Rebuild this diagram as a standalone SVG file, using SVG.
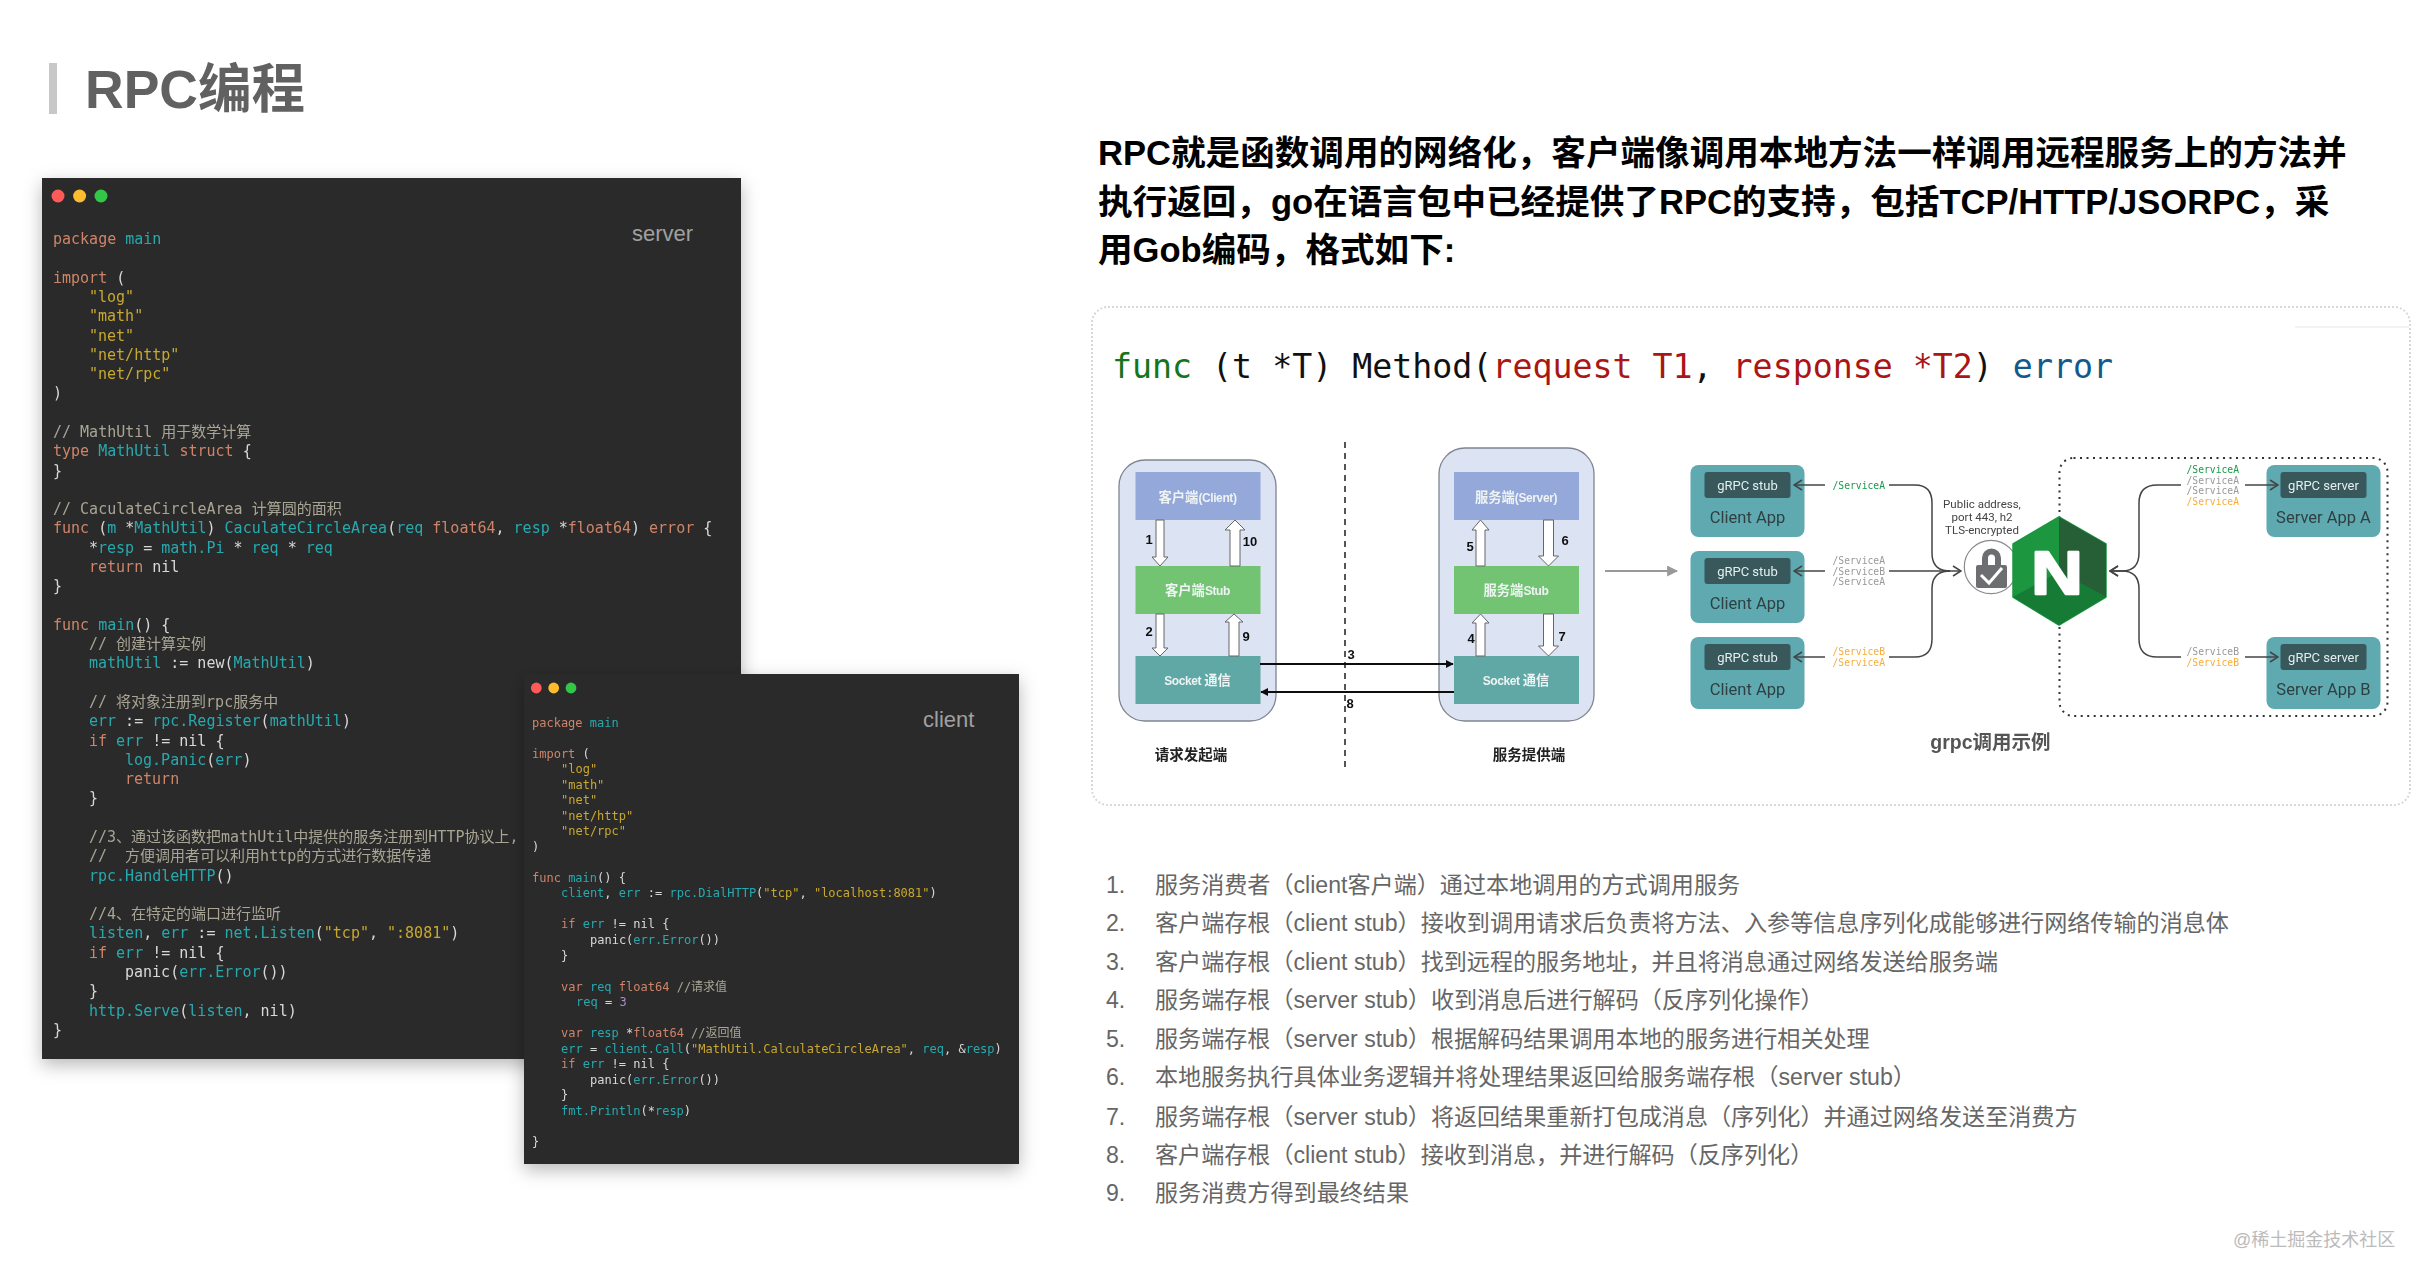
<svg xmlns="http://www.w3.org/2000/svg" width="2426" height="1282" viewBox="0 0 2426 1282">
<style>
text{white-space:pre}
.cjk{font-family:"Liberation Sans","Noto Sans CJK SC",sans-serif}
.rb{font-family:Roboto,"Noto Sans CJK SC",sans-serif}
.code text{font-family:"DejaVu Sans Mono","Noto Sans CJK SC",monospace;fill:#d8d8d8}
.s15 text{font-size:15px}
.s12 text{font-size:12px}
.k{fill:#cf8468}.t{fill:#27a9ae}.y{fill:#c9a82e}.c{fill:#a8a594}.p{fill:#b08fc0}
.win{fill:#2b2b2b;filter:url(#shadow)}
.winlabel{font-family:"Liberation Sans",sans-serif;font-size:22px;fill:#a0a0a0}
.head{font-size:34.6px;font-weight:700;fill:#000}
.li{font-size:23.1px;fill:#666}
.box{stroke:none}
.boxtxt{font-size:13.3px;font-weight:700;fill:#eef3f3;text-anchor:middle}
.lat{font-size:12px;letter-spacing:-0.4px}
.outer{fill:#dce3f2;stroke:#7f8590;stroke-width:1.3}
.blk{fill:#fff;stroke:#666;stroke-width:1}
.num{font-family:"Liberation Sans",sans-serif;font-size:13px;font-weight:700;fill:#111;text-anchor:middle}
.cap{font-size:14.5px;font-weight:700;fill:#222;text-anchor:middle}
.app{fill:#5eaab1}
.stub{fill:#38595c}
.stubtxt{font-size:13px;fill:#e4eeee;text-anchor:middle}
.apptxt{font-size:16.5px;fill:#2f3f42;text-anchor:middle}
.svc{font-family:"DejaVu Sans Mono",monospace;font-size:9.7px}
.g{fill:#1a9a4a}.gr{fill:#999}.o{fill:#f5ae3c}
.ln{fill:none;stroke:#444;stroke-width:1.5}
.arr{marker-end:url(#chev)}
.pub{font-size:11.5px;fill:#444;text-anchor:middle}
</style>
<defs>
<filter id="shadow" x="-10%" y="-10%" width="120%" height="120%"><feDropShadow dx="0" dy="6" stdDeviation="9" flood-color="#000" flood-opacity="0.28"/></filter>
<filter id="soft"><feGaussianBlur stdDeviation="0.45"/></filter>
<marker id="chev" viewBox="0 0 10 12" refX="9" refY="6" markerWidth="10" markerHeight="12" markerUnits="userSpaceOnUse" orient="auto"><path d="M1 1L9 6L1 11" fill="none" stroke="#444" stroke-width="1.5"/></marker>
<marker id="blk" viewBox="0 0 10 10" refX="9" refY="5" markerWidth="8" markerHeight="8" markerUnits="userSpaceOnUse" orient="auto"><path d="M0 0L10 5L0 10Z" fill="#111"/></marker>
<marker id="gry" viewBox="0 0 10 10" refX="9" refY="5" markerWidth="11" markerHeight="11" markerUnits="userSpaceOnUse" orient="auto"><path d="M0 0L10 5L0 10Z" fill="#999"/></marker>
</defs>
<rect width="2426" height="1282" fill="#fff"/>

<g id="title">
<rect x="49" y="63" width="8" height="51" fill="#c8c8c8"/>
<text class="cjk" x="85" y="108" font-size="53.5" font-weight="700" fill="#616161">RPC编程</text>
</g>

<g id="server-window">
<rect class="win" x="42" y="178" width="699" height="881"/>
<circle cx="58" cy="196" r="6.5" fill="#fc5b57"/><circle cx="79.6" cy="196" r="6.5" fill="#fdbc2e"/><circle cx="101" cy="196" r="6.5" fill="#33c748"/>
<text class="winlabel" x="632" y="241">server</text>
<g class="code s15" filter="url(#soft)">
<text x="53" y="244"><tspan class="k">package</tspan> <tspan class="t">main</tspan></text>
<text x="53" y="282.6"><tspan class="k">import</tspan> (</text>
<text x="89" y="301.9" style="fill:#c9a82e">"log"</text>
<text x="89" y="321.2" style="fill:#c9a82e">"math"</text>
<text x="89" y="340.5" style="fill:#c9a82e">"net"</text>
<text x="89" y="359.7" style="fill:#c9a82e">"net/http"</text>
<text x="89" y="379" style="fill:#c9a82e">"net/rpc"</text>
<text x="53" y="398.3">)</text>
<text x="53" y="436.9" style="fill:#a8a594">// MathUtil 用于数学计算</text>
<text x="53" y="456.2"><tspan class="k">type</tspan> <tspan class="t">MathUtil</tspan> <tspan class="k">struct</tspan> {</text>
<text x="53" y="475.5">}</text>
<text x="53" y="514.1" style="fill:#a8a594">// CaculateCircleArea 计算圆的面积</text>
<text x="53" y="533.4"><tspan class="k">func</tspan> (<tspan class="t">m</tspan> *<tspan class="t">MathUtil</tspan>) <tspan class="t">CaculateCircleArea</tspan>(<tspan class="t">req</tspan> <tspan class="k">float64</tspan>, <tspan class="t">resp</tspan> *<tspan class="k">float64</tspan>) <tspan class="k">error</tspan> {</text>
<text x="89" y="552.6">*<tspan class="t">resp</tspan> = <tspan class="t">math.Pi</tspan> * <tspan class="t">req</tspan> * <tspan class="t">req</tspan></text>
<text x="89" y="571.9"><tspan class="k">return</tspan> nil</text>
<text x="53" y="591.2">}</text>
<text x="53" y="629.8"><tspan class="k">func</tspan> <tspan class="t">main</tspan>() {</text>
<text x="89" y="649.1" style="fill:#a8a594">// 创建计算实例</text>
<text x="89" y="668.4"><tspan class="t">mathUtil</tspan> := new(<tspan class="t">MathUtil</tspan>)</text>
<text x="89" y="707" style="fill:#a8a594">// 将对象注册到rpc服务中</text>
<text x="89" y="726.3"><tspan class="t">err</tspan> := <tspan class="t">rpc.Register</tspan>(<tspan class="t">mathUtil</tspan>)</text>
<text x="89" y="745.5"><tspan class="k">if</tspan> <tspan class="t">err</tspan> != nil {</text>
<text x="125" y="764.8"><tspan class="t">log.Panic</tspan>(<tspan class="t">err</tspan>)</text>
<text x="125" y="784.1"><tspan class="k">return</tspan></text>
<text x="89" y="803.4">}</text>
<text x="89" y="842" style="fill:#a8a594">//3、通过该函数把mathUtil中提供的服务注册到HTTP协议上,</text>
<text x="89" y="861.3" style="fill:#a8a594">//  方便调用者可以利用http的方式进行数据传递</text>
<text x="89" y="880.6"><tspan class="t">rpc.HandleHTTP</tspan>()</text>
<text x="89" y="919.2" style="fill:#a8a594">//4、在特定的端口进行监听</text>
<text x="89" y="938.4"><tspan class="t">listen</tspan>, <tspan class="t">err</tspan> := <tspan class="t">net.Listen</tspan>(<tspan class="y">"tcp"</tspan>, <tspan class="y">":8081"</tspan>)</text>
<text x="89" y="957.7"><tspan class="k">if</tspan> <tspan class="t">err</tspan> != nil {</text>
<text x="125" y="977">panic(<tspan class="t">err.Error</tspan>())</text>
<text x="89" y="996.3">}</text>
<text x="89" y="1015.6"><tspan class="t">http.Serve</tspan>(<tspan class="t">listen</tspan>, nil)</text>
<text x="53" y="1034.9">}</text>
</g>
</g>

<g id="client-window">
<rect class="win" x="524" y="674" width="495" height="490"/>
<circle cx="536.3" cy="688" r="5.4" fill="#fc5b57"/><circle cx="553.7" cy="688" r="5.4" fill="#fdbc2e"/><circle cx="571" cy="688" r="5.4" fill="#33c748"/>
<text class="winlabel" x="923" y="727">client</text>
<g class="code s12" filter="url(#soft)">
<text x="532" y="726.5"><tspan class="k">package</tspan> <tspan class="t">main</tspan></text>
<text x="532" y="757.6"><tspan class="k">import</tspan> (</text>
<text x="561" y="773.1" style="fill:#c9a82e">"log"</text>
<text x="561" y="788.6" style="fill:#c9a82e">"math"</text>
<text x="561" y="804.2" style="fill:#c9a82e">"net"</text>
<text x="561" y="819.7" style="fill:#c9a82e">"net/http"</text>
<text x="561" y="835.2" style="fill:#c9a82e">"net/rpc"</text>
<text x="532" y="850.7">)</text>
<text x="532" y="881.8"><tspan class="k">func</tspan> <tspan class="t">main</tspan>() {</text>
<text x="561" y="897.3"><tspan class="t">client</tspan>, <tspan class="t">err</tspan> := <tspan class="t">rpc.DialHTTP</tspan>(<tspan class="y">"tcp"</tspan>, <tspan class="y">"localhost:8081"</tspan>)</text>
<text x="561" y="928.4"><tspan class="k">if</tspan> <tspan class="t">err</tspan> != nil {</text>
<text x="590" y="943.9">panic(<tspan class="t">err.Error</tspan>())</text>
<text x="561" y="959.5">}</text>
<text x="561" y="990.5"><tspan class="k">var</tspan> <tspan class="t">req</tspan> <tspan class="k">float64</tspan> <tspan class="c">//请求值</tspan></text>
<text x="576" y="1006"><tspan class="t">req</tspan> = <tspan class="p">3</tspan></text>
<text x="561" y="1037.1"><tspan class="k">var</tspan> <tspan class="t">resp</tspan> *<tspan class="k">float64</tspan> <tspan class="c">//返回值</tspan></text>
<text x="561" y="1052.6"><tspan class="t">err</tspan> = <tspan class="t">client.Call</tspan>(<tspan class="y">"MathUtil.CalculateCircleArea"</tspan>, <tspan class="t">req</tspan>, &amp;<tspan class="t">resp</tspan>)</text>
<text x="561" y="1068.2"><tspan class="k">if</tspan> <tspan class="t">err</tspan> != nil {</text>
<text x="590" y="1083.7">panic(<tspan class="t">err.Error</tspan>())</text>
<text x="561" y="1099.2">}</text>
<text x="561" y="1114.8"><tspan class="t">fmt.Println</tspan>(*<tspan class="t">resp</tspan>)</text>
<text x="532" y="1145.8">}</text>
</g>
</g>

<g id="intro" class="cjk">
<text class="head" x="1098" y="165">RPC就是函数调用的网络化&#xFF0C;客户端像调用本地方法一样调用远程服务上的方法并</text>
<text class="head" x="1098" y="214">执行返回&#xFF0C;go在语言包中已经提供了RPC的支持&#xFF0C;包括TCP/HTTP/JSORPC&#xFF0C;采</text>
<text class="head" x="1098" y="262">用Gob编码&#xFF0C;格式如下:</text>
</g>

<g id="panel">
<rect x="1092" y="307" width="1318" height="498" rx="16" fill="#fff" stroke="#d8d8d8" stroke-width="2" stroke-dasharray="2 2"/>
<path d="M2295 327H2409" stroke="#eee" stroke-width="1.5" fill="none"/>
<text x="1112" y="378" font-family="'DejaVu Sans Mono',monospace" font-size="33.25" fill="#111"><tspan fill="#15751a">func</tspan> (t *T) Method(<tspan fill="#aa1515">request T1</tspan>, <tspan fill="#aa1515">response *T2</tspan>) <tspan fill="#135a8c">error</tspan></text>
</g>

<g id="rpc-diagram" class="cjk" filter="url(#soft)">
<g id="client-side">
<rect class="outer" x="1119" y="460" width="157" height="261" rx="26"/>
<g id="client-box"><rect class="box" x="1135.5" y="472" width="125" height="48" fill="#94a8d9"/><text class="boxtxt" x="1197.5" y="502">客户端<tspan class="lat">(Client)</tspan></text></g>
<g id="client-stub"><rect class="box" x="1135.5" y="566" width="125" height="48" fill="#72c472"/><text class="boxtxt" x="1197.5" y="595">客户端<tspan class="lat">Stub</tspan></text></g>
<g id="client-socket"><rect class="box" x="1135.5" y="656" width="125" height="48" fill="#5fa8a5"/><text class="boxtxt" x="1197.5" y="685"><tspan class="lat">Socket </tspan>通信</text></g>
</g>
<g id="server-side">
<rect class="outer" x="1439" y="448" width="155" height="273" rx="26"/>
<g id="server-box"><rect class="box" x="1454" y="472" width="125" height="48" fill="#94a8d9"/><text class="boxtxt" x="1516" y="502">服务端<tspan class="lat">(Server)</tspan></text></g>
<g id="server-stub"><rect class="box" x="1454" y="566" width="125" height="48" fill="#72c472"/><text class="boxtxt" x="1516" y="595">服务端<tspan class="lat">Stub</tspan></text></g>
<g id="server-socket"><rect class="box" x="1454" y="656" width="125" height="48" fill="#5fa8a5"/><text class="boxtxt" x="1516" y="685"><tspan class="lat">Socket </tspan>通信</text></g>
</g>
<g id="rpc-connectors">
<path class="blk" d="M1156 520H1164V557H1168L1160 566L1152 557H1156Z"/>
<path class="blk" d="M1230 566H1240V530H1245L1235 520L1225 530H1230Z"/>
<path class="blk" d="M1156 614H1164V648H1168L1160 656L1152 648H1156Z"/>
<path class="blk" d="M1229 656H1239V622H1243L1234 614L1225 622H1229Z"/>
<path class="blk" d="M1476 566H1485V530H1489L1480.5 520L1472 530H1476Z"/>
<path class="blk" d="M1543.5 520H1553.5V556H1558.5L1548.5 566L1538.5 556H1543.5Z"/>
<path class="blk" d="M1476 656H1485V623H1489L1480.5 614L1472 623H1476Z"/>
<path class="blk" d="M1543.5 614H1553.5V646H1558.5L1548.5 656L1538.5 646H1543.5Z"/>
<path d="M1345 442V770" stroke="#555" stroke-width="2" stroke-dasharray="6 5" fill="none"/>
<path d="M1260 664H1453" stroke="#111" stroke-width="2.2" fill="none" marker-end="url(#blk)"/>
<path d="M1454 692H1261" stroke="#111" stroke-width="2.2" fill="none" marker-end="url(#blk)"/>
<path d="M1605 571H1677" stroke="#999" stroke-width="2.2" fill="none" marker-end="url(#gry)"/>
</g>
<text class="num" x="1149" y="544">1</text><text class="num" x="1250" y="546">10</text>
<text class="num" x="1149" y="636">2</text><text class="num" x="1246" y="641">9</text>
<text class="num" x="1470" y="551">5</text><text class="num" x="1565" y="545">6</text>
<text class="num" x="1471" y="643">4</text><text class="num" x="1562" y="641">7</text>
<text class="num" x="1351" y="659">3</text><text class="num" x="1350" y="708">8</text>
<text class="cap" x="1191" y="760">请求发起端</text>
<text class="cap" x="1529" y="760">服务提供端</text>
</g>

<g id="grpc-diagram" filter="url(#soft)">
<rect x="2059.5" y="458" width="328" height="258" rx="14" fill="none" stroke="#333" stroke-width="2" stroke-dasharray="2 4.5"/>
<g id="client-app-1" class="rb"><rect class="app" x="1690.5" y="465" width="114" height="72" rx="8"/><rect class="stub" x="1704.5" y="472" width="86" height="26" rx="3"/><text class="stubtxt" x="1747.5" y="490">gRPC stub</text><text class="apptxt" x="1747.5" y="523">Client App</text></g>
<g id="client-app-2" class="rb"><rect class="app" x="1690.5" y="551" width="114" height="72" rx="8"/><rect class="stub" x="1704.5" y="558" width="86" height="26" rx="3"/><text class="stubtxt" x="1747.5" y="576">gRPC stub</text><text class="apptxt" x="1747.5" y="609">Client App</text></g>
<g id="client-app-3" class="rb"><rect class="app" x="1690.5" y="637" width="114" height="72" rx="8"/><rect class="stub" x="1704.5" y="644" width="86" height="26" rx="3"/><text class="stubtxt" x="1747.5" y="662">gRPC stub</text><text class="apptxt" x="1747.5" y="695">Client App</text></g>
<g id="server-app-a" class="rb"><rect class="app" x="2266.5" y="465" width="114" height="72" rx="8"/><rect class="stub" x="2280.5" y="472" width="86" height="26" rx="3"/><text class="stubtxt" x="2323.5" y="490">gRPC server</text><text class="apptxt" x="2323.5" y="523">Server App A</text></g>
<g id="server-app-b" class="rb"><rect class="app" x="2266.5" y="637" width="114" height="72" rx="8"/><rect class="stub" x="2280.5" y="644" width="86" height="26" rx="3"/><text class="stubtxt" x="2323.5" y="662">gRPC server</text><text class="apptxt" x="2323.5" y="695">Server App B</text></g>
<g id="grpc-connectors">
<path class="ln arr" d="M1825 485H1794"/><path class="ln arr" d="M1825 571H1794"/><path class="ln arr" d="M1825 657H1794"/>
<path class="ln" d="M1889 485H1915Q1932 485 1932 503V553Q1932 571 1950 571"/>
<path class="ln" d="M1889 657H1915Q1932 657 1932 639V589Q1932 571 1950 571"/>
<path class="ln arr" d="M1889 571H1961"/>
<path class="ln arr" d="M2181 485H2157Q2139 485 2139 503V553Q2139 571 2122 571H2110"/>
<path class="ln arr" d="M2181 657H2157Q2139 657 2139 639V589Q2139 571 2122 571H2110"/>
<path class="ln arr" d="M2245 485H2278"/><path class="ln arr" d="M2245 657H2278"/>
</g>
<g class="svc">
<text class="g" x="1832.5" y="488.5">/ServiceA</text>
<text class="gr" x="1832.5" y="563.5">/ServiceA</text><text class="gr" x="1832.5" y="574.5">/ServiceB</text><text class="gr" x="1832.5" y="585">/ServiceA</text>
<text class="o" x="1832.5" y="654.5">/ServiceB</text><text class="o" x="1832.5" y="665.5">/ServiceA</text>
<text class="g" x="2186.5" y="472.5">/ServiceA</text><text class="gr" x="2186.5" y="483.5">/ServiceA</text><text class="gr" x="2186.5" y="494">/ServiceA</text><text class="o" x="2186.5" y="505">/ServiceA</text>
<text class="gr" x="2186.5" y="654.5">/ServiceB</text><text class="o" x="2186.5" y="665.5">/ServiceB</text>
</g>
<g class="rb"><text class="pub" x="1982" y="508">Public address,</text><text class="pub" x="1982" y="521">port 443, h2</text><text class="pub" x="1982" y="534">TLS-encrypted</text></g>
<g id="lock">
<circle cx="1991" cy="567" r="26.7" fill="#fff" stroke="#8a8a8a" stroke-width="1.2"/>
<path d="M1985 566V558a6.5 6.5 0 0 1 13 0V566" fill="none" stroke="#6d6e71" stroke-width="6"/>
<rect x="1976" y="565" width="31" height="23" rx="2" fill="#6d6e71"/>
<path d="M1981 575L1989 583L2002 568" fill="none" stroke="#fff" stroke-width="3"/>
</g>
<g id="nginx">
<path d="M2059 517L2106 544V597L2059 625L2013 597V544Z" fill="#1a9740" stroke="#1a9740" stroke-width="1.5" stroke-linejoin="round"/>
<path d="M2059 517L2106 544V597L2059 572Z" fill="#265e36"/>
<path d="M2013 597L2059 572L2106 597L2059 625Z" fill="#127c34"/>
<text transform="translate(2057 594) scale(1.15 1)" font-family="'Liberation Sans',sans-serif" font-size="62" font-weight="700" fill="#fff" stroke="#fff" stroke-width="2.5" stroke-linejoin="round" text-anchor="middle">N</text>
</g>
<text class="cjk" x="1990.5" y="749" font-size="19.5" font-weight="700" fill="#555" text-anchor="middle">grpc调用示例</text>
</g>

<g id="steps" class="cjk">
<text class="li" x="1106" y="893">1.</text><text class="li" x="1155" y="893">服务消费者&#xFF08;client客户端&#xFF09;通过本地调用的方式调用服务</text>
<text class="li" x="1106" y="931">2.</text><text class="li" x="1155" y="931">客户端存根&#xFF08;client stub&#xFF09;接收到调用请求后负责将方法、入参等信息序列化成能够进行网络传输的消息体</text>
<text class="li" x="1106" y="970">3.</text><text class="li" x="1155" y="970">客户端存根&#xFF08;client stub&#xFF09;找到远程的服务地址&#xFF0C;并且将消息通过网络发送给服务端</text>
<text class="li" x="1106" y="1008">4.</text><text class="li" x="1155" y="1008">服务端存根&#xFF08;server stub&#xFF09;收到消息后进行解码&#xFF08;反序列化操作&#xFF09;</text>
<text class="li" x="1106" y="1047">5.</text><text class="li" x="1155" y="1047">服务端存根&#xFF08;server stub&#xFF09;根据解码结果调用本地的服务进行相关处理</text>
<text class="li" x="1106" y="1085">6.</text><text class="li" x="1155" y="1085">本地服务执行具体业务逻辑并将处理结果返回给服务端存根&#xFF08;server stub&#xFF09;</text>
<text class="li" x="1106" y="1125">7.</text><text class="li" x="1155" y="1125">服务端存根&#xFF08;server stub&#xFF09;将返回结果重新打包成消息&#xFF08;序列化&#xFF09;并通过网络发送至消费方</text>
<text class="li" x="1106" y="1163">8.</text><text class="li" x="1155" y="1163">客户端存根&#xFF08;client stub&#xFF09;接收到消息&#xFF0C;并进行解码&#xFF08;反序列化&#xFF09;</text>
<text class="li" x="1106" y="1201">9.</text><text class="li" x="1155" y="1201">服务消费方得到最终结果</text>
</g>

<text id="watermark" class="cjk" x="2233" y="1246" font-size="18" fill="#bbb">@稀土掘金技术社区</text>
</svg>
